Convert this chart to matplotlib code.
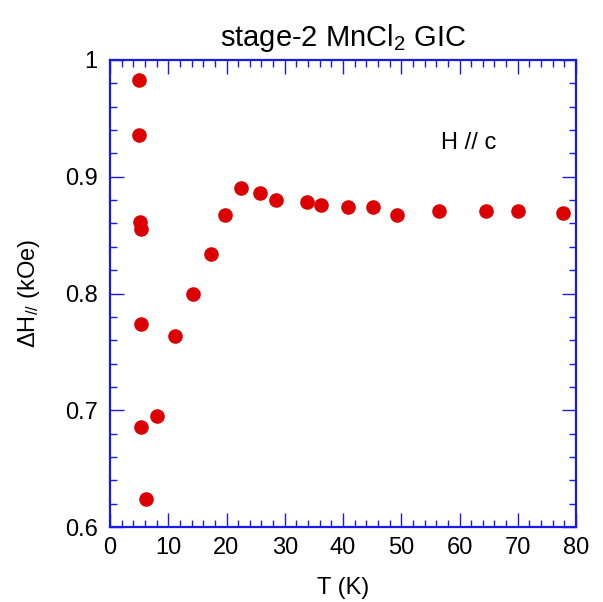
import numpy as np
import matplotlib
matplotlib.use('Agg')
import matplotlib.pyplot as plt
from matplotlib.ticker import MultipleLocator

plt.rcParams['font.family'] = ['Liberation Sans', 'DejaVu Sans']
plt.rcParams['mathtext.default'] = 'regular'

# temperature (K) and linewidth (kOe)
T  = [5.0, 5.0, 5.1, 5.3, 5.3, 5.3, 6.2, 8.1, 11.2, 14.3, 17.3, 19.7,
      22.5, 25.8, 28.5, 33.8, 36.2, 40.9, 45.2, 49.3, 56.5, 64.5, 70.0, 77.8]
dH = [0.983, 0.936, 0.861, 0.855, 0.774, 0.686, 0.624, 0.695, 0.764, 0.800,
      0.834, 0.867, 0.890, 0.886, 0.880, 0.878, 0.876, 0.874, 0.874, 0.867,
      0.871, 0.871, 0.871, 0.869]

blue = '#1a1ae6'

fig = plt.figure(figsize=(6.03, 6.02), dpi=100)
ax = fig.add_axes([110/603, 1 - 527/602, 466/603, 467/602])

ax.plot(T, dH, 'o', color='#dd0000', markersize=10.5, markeredgewidth=0)

ax.set_xlim(0, 80)
ax.set_ylim(0.6, 1.0)
ax.xaxis.set_major_locator(MultipleLocator(10))
ax.xaxis.set_minor_locator(MultipleLocator(2))
ax.yaxis.set_major_locator(MultipleLocator(0.1))
ax.yaxis.set_minor_locator(MultipleLocator(0.02))
ax.set_yticks([0.6, 0.7, 0.8, 0.9, 1.0], ['0.6', '0.7', '0.8', '0.9', '1'])

ax.tick_params(which='both', direction='in', top=True, right=True,
               color=blue, labelsize=17, width=1)
ax.tick_params(which='major', length=10)
ax.tick_params(which='minor', length=5)
ax.tick_params(axis='x', pad=7)
ax.tick_params(axis='y', pad=9)
for s in ax.spines.values():
    s.set_color(blue)
    s.set_linewidth(1.6)

ax.set_xlabel('T (K)', fontsize=17, labelpad=13)
ax.set_ylabel(r'$\Delta$H$_{//}$ (kOe)', fontsize=17, labelpad=16)
ax.set_title('stage-2 MnCl$_2$ GIC', fontsize=21, pad=10)
ax.text(61.5, 0.929, 'H // c', fontsize=17, ha='center', va='center')

fig.savefig('out.png', dpi=100)
